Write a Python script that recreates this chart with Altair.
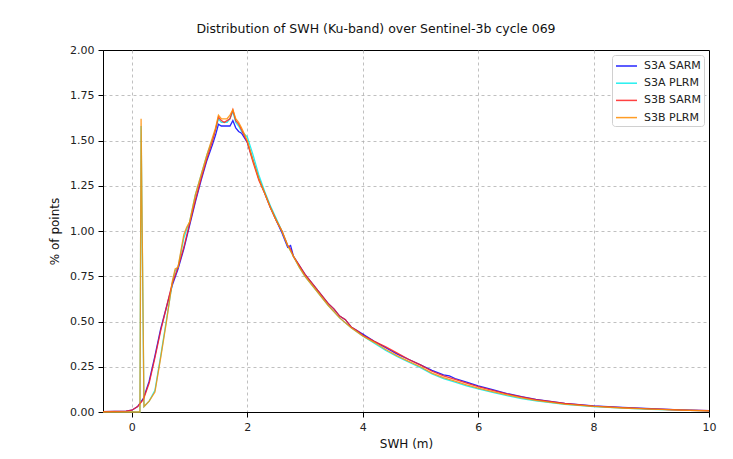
import altair as alt
import pandas as pd

SERIES = ["S3A SARM", "S3A PLRM", "S3B SARM", "S3B PLRM"]
COLORS = ["#0000ff", "#00eeee", "#ff2020", "#ff8c00"]

# SARM grid (S3A SARM, S3B SARM)
X_SARM = [-0.5, -0.3, -0.1, 0.0, 0.1, 0.2, 0.3, 0.4, 0.5, 0.6, 0.7, 0.8, 0.9, 1.0,
          1.1, 1.2, 1.3, 1.4, 1.45, 1.5, 1.55, 1.6, 1.65, 1.7, 1.75, 1.8, 1.85, 1.9,
          2.0, 2.1, 2.2, 2.3, 2.4, 2.5, 2.6, 2.7, 2.75, 2.8, 2.9, 3.0, 3.1, 3.2, 3.3,
          3.4, 3.5, 3.6, 3.7, 3.8, 3.9, 4.0, 4.2, 4.4, 4.6, 4.8, 5.0, 5.2, 5.4, 5.5,
          5.6, 5.8, 6.0, 6.25, 6.5, 6.75, 7.0, 7.5, 8.0, 8.5, 9.0, 9.5, 10.0]

S3A_SARM = [0.002, 0.003, 0.005, 0.010, 0.030, 0.075, 0.17, 0.31, 0.46, 0.58, 0.70, 0.79,
            0.90, 1.03, 1.16, 1.28, 1.39, 1.48, 1.53, 1.59, 1.58, 1.58, 1.58, 1.58, 1.61,
            1.57, 1.55, 1.54, 1.49, 1.39, 1.29, 1.21, 1.13, 1.06, 0.99, 0.91, 0.92, 0.86,
            0.81, 0.76, 0.72, 0.68, 0.64, 0.60, 0.57, 0.53, 0.51, 0.47, 0.45, 0.43, 0.39,
            0.355, 0.32, 0.29, 0.26, 0.23, 0.205, 0.20, 0.185, 0.165, 0.145, 0.123, 0.102,
            0.085, 0.069, 0.048, 0.034, 0.025, 0.018, 0.012, 0.008]

S3B_SARM = [0.002, 0.003, 0.005, 0.010, 0.030, 0.070, 0.16, 0.30, 0.45, 0.58, 0.71, 0.80,
            0.91, 1.04, 1.17, 1.29, 1.40, 1.50, 1.56, 1.63, 1.61, 1.60, 1.61, 1.62, 1.67,
            1.61, 1.59, 1.56, 1.49, 1.38, 1.28, 1.21, 1.13, 1.06, 1.00, 0.92, 0.90, 0.86,
            0.81, 0.76, 0.72, 0.68, 0.64, 0.60, 0.57, 0.53, 0.51, 0.47, 0.45, 0.425, 0.39,
            0.36, 0.325, 0.29, 0.26, 0.225, 0.20, 0.19, 0.18, 0.16, 0.14, 0.12, 0.10,
            0.083, 0.068, 0.047, 0.033, 0.024, 0.017, 0.011, 0.007]

# PLRM grid (S3A PLRM, S3B PLRM), with the low-SWH spike
X_PLRM = [-0.5, -0.3, -0.1, 0.0, 0.1, 0.14, 0.16, 0.21, 0.3, 0.4, 0.5, 0.6, 0.7, 0.75,
          0.8, 0.9, 0.95, 1.0, 1.1, 1.2, 1.3, 1.4, 1.45, 1.5, 1.55, 1.6, 1.65, 1.7, 1.75,
          1.8, 1.85, 1.9, 2.0, 2.1, 2.2, 2.3, 2.4, 2.5, 2.6, 2.7, 2.8, 2.9, 3.0, 3.2,
          3.4, 3.6, 3.8, 4.0, 4.2, 4.4, 4.6, 4.8, 5.0, 5.2, 5.4, 5.6, 5.8, 6.0, 6.25,
          6.5, 6.75, 7.0, 7.5, 8.0, 8.5, 9.0, 9.5, 10.0]

S3A_PLRM = [0.0, 0.0, 0.0, 0.0, 0.0, 0.0, 1.58, 0.03, 0.06, 0.12, 0.31, 0.51, 0.71, 0.78,
            0.80, 0.96, 1.01, 1.05, 1.20, 1.31, 1.42, 1.51, 1.56, 1.62, 1.60, 1.60, 1.60,
            1.62, 1.66, 1.60, 1.58, 1.55, 1.52, 1.42, 1.31, 1.22, 1.14, 1.07, 1.00, 0.92,
            0.86, 0.80, 0.75, 0.67, 0.59, 0.52, 0.465, 0.42, 0.38, 0.34, 0.305, 0.275,
            0.245, 0.21, 0.185, 0.165, 0.145, 0.128, 0.108, 0.09, 0.074, 0.061, 0.042,
            0.030, 0.021, 0.015, 0.010, 0.006]

S3B_PLRM = [0.0, 0.0, 0.0, 0.0, 0.0, 0.0, 1.62, 0.03, 0.06, 0.11, 0.30, 0.50, 0.72, 0.79,
            0.80, 0.98, 1.02, 1.05, 1.20, 1.31, 1.42, 1.52, 1.57, 1.64, 1.62, 1.62, 1.62,
            1.64, 1.67, 1.62, 1.60, 1.57, 1.50, 1.39, 1.29, 1.21, 1.13, 1.06, 1.00, 0.92,
            0.86, 0.80, 0.75, 0.67, 0.59, 0.52, 0.465, 0.42, 0.385, 0.345, 0.31, 0.28,
            0.25, 0.215, 0.19, 0.17, 0.15, 0.132, 0.112, 0.095, 0.078, 0.064, 0.044,
            0.031, 0.022, 0.016, 0.010, 0.006]

frames = [
    pd.DataFrame({"swh": X_SARM, "pct": S3A_SARM, "series": SERIES[0]}),
    pd.DataFrame({"swh": X_PLRM, "pct": S3A_PLRM, "series": SERIES[1]}),
    pd.DataFrame({"swh": X_SARM, "pct": S3B_SARM, "series": SERIES[2]}),
    pd.DataFrame({"swh": X_PLRM, "pct": S3B_PLRM, "series": SERIES[3]}),
]

FONT = "DejaVu Sans"
XSCALE = alt.Scale(domain=[-0.5, 10], nice=False, zero=False)
YSCALE = alt.Scale(domain=[0, 2.0], nice=False)

xenc = alt.X("swh:Q", title="SWH (m)", scale=XSCALE,
             axis=alt.Axis(values=[0, 2, 4, 6, 8, 10], format="d", labelFlush=False,
                           gridDash=[3, 3], gridColor="#b0b0b0", gridWidth=0.8,
                           gridOpacity={"condition": {"test": "datum.value >= 10", "value": 0},
                                        "value": 1}))
yenc = alt.Y("pct:Q", title="% of points", scale=YSCALE,
             axis=alt.Axis(values=[0, 0.25, 0.5, 0.75, 1.0, 1.25, 1.5, 1.75, 2.0], format=".2f",
                           labelFlush=False,
                           gridDash=[3, 3], gridColor="#b0b0b0", gridWidth=0.8,
                           gridOpacity={"condition": {"test": "datum.value >= 2", "value": 0},
                                        "value": 1}))
cenc = alt.Color("series:N", title=None,
                 scale=alt.Scale(domain=SERIES, range=COLORS),
                 legend=alt.Legend(orient="none", legendX=509, legendY=5,
                                   symbolType="M-1,0L2,0",
                                   symbolSize=196, symbolStrokeWidth=1.5,
                                   labelFontSize=11, labelFont=FONT, labelColor="#222",
                                   strokeColor="#d0d0d0", fillColor="white",
                                   padding=3, cornerRadius=3, rowPadding=4.2,
                                   labelOffset=13))

chart = alt.layer(*[
    alt.Chart(df).mark_line(strokeWidth=1.3, opacity=0.85).encode(x=xenc, y=yenc, color=cenc)
    for df in frames
]).properties(
    width=606, height=362,
    padding={"left": 95, "top": 42, "right": 16, "bottom": 39},
    autosize=alt.AutoSizeParams(type="none"),
    title=alt.TitleParams("Distribution of SWH (Ku-band) over Sentinel-3b cycle 069",
                          font=FONT, fontSize=12.5, fontWeight="normal", color="#111",
                          anchor="middle", dx=-30, offset=9),
).configure(background="white").configure_view(stroke="black", strokeWidth=1).configure_axis(
    labelFont=FONT, titleFont=FONT, labelFontSize=11, titleFontSize=12,
    titleFontWeight="normal", labelColor="#222", titleColor="#111",
    domainColor="black", tickColor="black", tickSize=5, labelPadding=4,
).configure_axisX(titlePadding=6).configure_axisY(titlePadding=8)

chart.save("out.html", embed_options={"renderer": "svg", "actions": False})
